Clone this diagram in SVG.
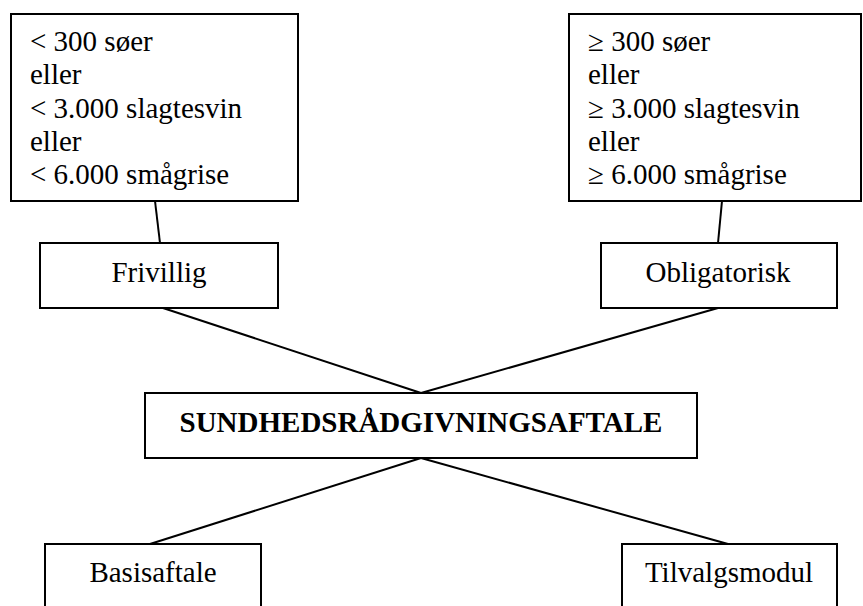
<svg xmlns="http://www.w3.org/2000/svg" width="863" height="606" viewBox="0 0 863 606">
<style>
.box{fill:#fff;stroke:#000;stroke-width:2}
.t{font-size:29px;fill:#000}
.c{text-anchor:middle}
.b{font-weight:bold}
.ln{stroke:#000;stroke-width:2;fill:none}
</style>
<rect width="863" height="606" fill="#fff"/>
<g id="connectors">
<line class="ln" x1="155" y1="201" x2="160" y2="243"/>
<line class="ln" x1="722" y1="201" x2="718" y2="243"/>
<line class="ln" x1="163" y1="308" x2="421" y2="393"/>
<line class="ln" x1="718" y1="308" x2="421" y2="393"/>
<line class="ln" x1="421" y1="458" x2="150" y2="544"/>
<line class="ln" x1="421" y1="458" x2="728" y2="544"/>
</g>
<g id="nodes" font-family="Liberation Serif, serif">
<g id="small-herds">
<rect class="box" x="11" y="14" width="287" height="187"/>
<text class="t" x="30" y="51">&lt; 300 søer</text>
<text class="t" x="30" y="84">eller</text>
<text class="t" x="30" y="117.5">&lt; 3.000 slagtesvin</text>
<text class="t" x="30" y="151">eller</text>
<text class="t" x="30" y="184">&lt; 6.000 smågrise</text>
</g>
<g id="large-herds">
<rect class="box" x="569" y="14" width="292" height="187"/>
<text class="t" x="588" y="51">≥ 300 søer</text>
<text class="t" x="588" y="84">eller</text>
<text class="t" x="588" y="117.5">≥ 3.000 slagtesvin</text>
<text class="t" x="588" y="151">eller</text>
<text class="t" x="588" y="184">≥ 6.000 smågrise</text>
</g>
<g id="frivillig">
<rect class="box" x="40" y="243" width="238" height="65"/>
<text class="t c" x="159" y="282">Frivillig</text>
</g>
<g id="obligatorisk">
<rect class="box" x="601" y="243" width="236" height="65"/>
<text class="t c" x="718" y="282">Obligatorisk</text>
</g>
<g id="sundhed">
<rect class="box" x="145" y="393" width="552" height="65"/>
<text class="t c b" x="421" y="432">SUNDHEDSRÅDGIVNINGSAFTALE</text>
</g>
<g id="basisaftale">
<rect class="box" x="45" y="544" width="216" height="70"/>
<text class="t c" x="153" y="582">Basisaftale</text>
</g>
<g id="tilvalgsmodul">
<rect class="box" x="622" y="544" width="215" height="70"/>
<text class="t c" x="729" y="582">Tilvalgsmodul</text>
</g>
</g>
</svg>
